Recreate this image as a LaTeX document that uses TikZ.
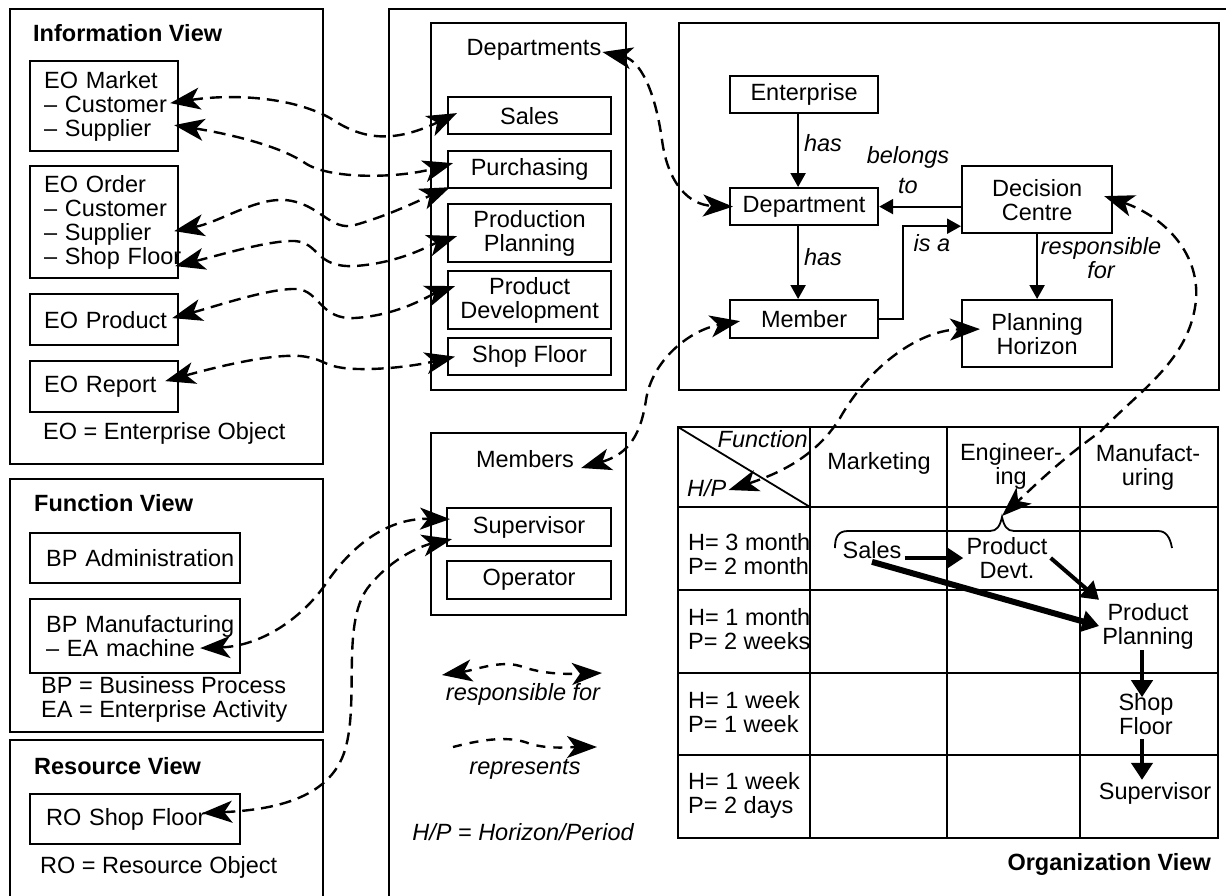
\documentclass[tikz,border=0pt]{standalone}
\usepackage{fontspec}
\setmainfont{Liberation Sans}
\usetikzlibrary{arrows.meta}
\hyphenpenalty=10000
\exhyphenpenalty=10000
\begin{document}
\begin{tikzpicture}[x=1pt,y=-1pt, font=\fontsize{23.5}{24}\selectfont,
  panel/.style={draw, line width=2.2pt, inner sep=0pt, anchor=north west},
  box/.style={draw, line width=2.2pt, inner sep=0pt, anchor=north west, align=center},
  lbox/.style={box, align=left},
  txt/.style={inner sep=0pt},
  ttl/.style={inner sep=0pt, anchor=west, font=\fontsize{23.5}{24}\selectfont\bfseries},
  itl/.style={inner sep=0pt, font=\fontsize{23.5}{24}\selectfont\itshape},
  dcon/.style={line width=2.4pt, dash pattern=on 12pt off 7pt},
  bi/.style={{Stealth[length=30pt,width=22pt,inset=8pt]}-{Stealth[length=30pt,width=22pt,inset=8pt]}},
  uni/.style={-{Stealth[length=30pt,width=22pt,inset=8pt]}},
  sarr/.style={line width=2.2pt, -{Triangle[length=14pt,width=15pt]}},
  tarr/.style={line width=4.5pt, -{Triangle[length=17pt,width=21pt]}},
  tline/.style={line width=2.2pt}
]
\clip (0,0) rectangle (1226,895);

% ---------- Information View ----------
\node[panel, minimum width=313pt, minimum height=455pt] (info) at (9,8) {};
\node[ttl] (infot) at (33,33) {Information View};
\node[lbox, minimum width=148pt, minimum height=90pt, text width=120pt, inner xsep=14pt] (mkt) at (29,60) {\mbox{EO Market}\\\mbox{– Customer}\\\mbox{– Supplier}};
\node[lbox, minimum width=148pt, minimum height=112pt, text width=120pt, inner xsep=14pt] (ord) at (29,165) {\mbox{EO Order}\\\mbox{– Customer}\\\mbox{– Supplier}\\\mbox{– Shop Floor}};
\node[lbox, minimum width=148pt, minimum height=51pt, text width=120pt, inner xsep=14pt] (prod) at (29,293) {\mbox{EO Product}};
\node[lbox, minimum width=148pt, minimum height=51pt, text width=120pt, inner xsep=14pt] (rep) at (29,360) {\mbox{EO Report}};
\node[txt, anchor=west] (eodef) at (43,433) {EO = Enterprise Object};

% ---------- Function View ----------
\node[panel, minimum width=313pt, minimum height=253pt] (func) at (9,478) {};
\node[ttl] (funct) at (34,503) {Function View};
\node[lbox, minimum width=210pt, minimum height=50pt, text width=178pt, inner xsep=16pt] (bpa) at (29,532) {\mbox{BP Administration}};
\node[lbox, minimum width=210pt, minimum height=74pt, text width=178pt, inner xsep=16pt] (bpm) at (29,598) {\mbox{BP Manufacturing}\\\mbox{– EA machine}};
\node[txt, anchor=west, align=left] (bpdef) at (41,699) {BP = Business Process\\EA = Enterprise Activity};

% ---------- Resource View ----------
\node[panel, minimum width=313pt, minimum height=200pt] (res) at (9,739) {};
\node[ttl] (rest) at (34,766) {Resource View};
\node[lbox, minimum width=210pt, minimum height=50pt, text width=178pt, inner xsep=16pt] (ro) at (29,793) {\mbox{RO Shop Floor}};
\node[txt, anchor=west] (rodef) at (40,867) {RO = Resource Object};

% ---------- Organization View (main panel) ----------
\node[panel, minimum width=900pt, minimum height=950pt] (main) at (388,8) {};

\node[panel, minimum width=195pt, minimum height=367pt] (deps) at (430,22) {};
\node[txt] (depl) at (534,50) {Departments};
\node[box, minimum width=163pt, minimum height=37pt] (sales) at (447,96) {Sales};
\node[box, minimum width=163pt, minimum height=37pt] (purch) at (447,150) {Purchasing};
\node[box, minimum width=163pt, minimum height=58pt] (pplan) at (447,203) {Production\\Planning};
\node[box, minimum width=163pt, minimum height=58pt] (pdev) at (447,270) {Product\\Development};
\node[box, minimum width=163pt, minimum height=37pt] (sfl) at (447,337) {Shop Floor};

\node[panel, minimum width=195pt, minimum height=182pt] (mems) at (430,432) {};
\node[txt] (meml) at (525,459) {Members};
\node[box, minimum width=164pt, minimum height=38pt] (sup) at (446,507) {Supervisor};
\node[box, minimum width=164pt, minimum height=38pt] (opr) at (446,560) {Operator};

% legend
\node[itl] (lg1) at (523,694) {responsible for};
\node[itl] (lg2) at (525,769) {represents};
\node[itl] (hpdef) at (523,832) {H/P = Horizon/Period};

% organisation model
\node[panel, minimum width=540pt, minimum height=367pt] (org) at (678,22) {};
\node[box, minimum width=148pt, minimum height=37pt] (ent) at (729,75) {Enterprise};
\node[box, minimum width=148pt, minimum height=37pt] (dep) at (729,187) {Department};
\node[box, minimum width=148pt, minimum height=38pt] (mem) at (729,299) {Member};
\node[box, minimum width=150pt, minimum height=67pt] (dc) at (961,165) {Decision\\Centre};
\node[box, minimum width=150pt, minimum height=67pt] (ph) at (961,299) {Planning\\Horizon};

\draw[sarr] ([xshift=-6pt]ent.south) -- ([xshift=-6pt]dep.north);
\draw[sarr] ([xshift=-6pt]dep.south) -- ([xshift=-6pt]mem.north);
\draw[sarr] (dc.west |- dep.east) -- (dep.east);
\draw[sarr] (mem.east) -- ++(24,0) |- ([yshift=8pt]dc.south west);
\draw[sarr] (dc.south) -- (ph.north);
\node[itl] (has1) at (823,143) {has};
\node[itl] (has2) at (823,257) {has};
\node[itl, align=center, font=\fontsize{23.5}{30}\selectfont\itshape] (bel) at (908,170) {belongs\\to};
\node[itl] (isa) at (932,243) {is a};
\node[itl, align=center] (resp) at (1101,258) {responsible\\for};

% table
\draw[tline] (678,427) rectangle (1218,838);
\foreach \yy in {507,590,673,755} \draw[tline] (678,\yy) -- (1218,\yy);
\foreach \xx in {810,947,1080} \draw[tline] (\xx,427) -- (\xx,838);
\draw[line width=1.8pt] (678,427) -- (810,507);
\node[itl, anchor=east] (fnl) at (808,439) {Function};
\node[itl, anchor=west] (hpl) at (687,488) {H/P};
\node[txt] (mk) at (879,463) {Marketing};
\node[txt, align=center] (eng) at (1011,466) {Engineer-\\ing};
\node[txt, align=center] (man) at (1148,467) {Manufact-\\uring};
\node[txt, anchor=west, align=left] (r1) at (688,554) {H= 3 month\\P= 2 month};
\node[txt, anchor=west, align=left] (r2) at (688,629) {H= 1 month\\P= 2 weeks};
\node[txt, anchor=west, align=left] (r3) at (688,712) {H= 1 week\\P= 1 week};
\node[txt, anchor=west, align=left] (r4) at (688,795) {H= 1 week\\P= 2 days};

\node[inner sep=3pt] (tsales) at (872,550) {Sales};
\node[inner sep=3pt, align=center] (tdevt) at (1007,558) {Product\\Devt.};
\node[inner sep=3pt, align=center] (tpp) at (1148,626) {Product\\Planning};
\node[inner sep=0pt, align=center] (tsf) at (1146,714) {Shop\\Floor};
\node[inner sep=2pt] (tsup) at (1155,793) {Supervisor};
\node[ttl, anchor=east] (orgt) at (1211,864) {Organization View};

\draw[line width=1.8pt] (835,548) .. controls (835,537) and (838,531) .. (848,531) -- (990,531)
  .. controls (997,531) and (1000,526) .. (1002,517) .. controls (1004,526) and (1007,531) .. (1014,531)
  -- (1158,531) .. controls (1166,531) and (1170,537) .. (1172,548);
\coordinate (bracetip) at (1002,516);

\draw[tarr] (tsales.east |- tdevt.west) -- (tdevt.west);
\draw[tarr, line width=6pt] (tsales.south) -- (tpp.west);
\draw[tarr, line width=4pt] (tdevt.east) -- (tpp.north west);
\draw[tarr] ([xshift=-6pt,yshift=2pt]tpp.south) -- ([xshift=-4pt,yshift=-4pt]tsf.north);
\draw[tarr] ([xshift=-4pt,yshift=-4pt]tsf.south) -- ([xshift=-13pt]tsup.north);

% ---------- dashed connectors ----------
\coordinate (c1a) at ([xshift=-9pt,yshift=3pt]mkt.east);
\coordinate (c1b) at ([xshift=10pt,yshift=2.5pt]sales.west);
\coordinate (c2a) at ([xshift=-5pt,yshift=-19pt]mkt.east);
\coordinate (c2b) at ([xshift=6pt,yshift=6.5pt]purch.west);
\coordinate (c3a) at ([xshift=-5pt,yshift=-9pt]ord.east);
\coordinate (c3b) at ([xshift=3pt,yshift=2pt]purch.south west);
\coordinate (c4a) at ([xshift=-4pt,yshift=-44pt]ord.east);
\coordinate (c4b) at ([xshift=10pt,yshift=-3pt]pplan.west);
\coordinate (c5a) at ([xshift=-7pt,yshift=1.5pt]prod.east);
\coordinate (c5b) at ([xshift=8pt,yshift=14pt]pdev.west);
\coordinate (c6a) at ([xshift=-14pt,yshift=5.5pt]rep.east);
\coordinate (c6b) at ([xshift=8pt]sfl.west);
\coordinate (c7a) at ([xshift=1pt,yshift=-2pt]depl.east);
\coordinate (c7b) at ([xshift=4pt]dep.west);
\coordinate (c8a) at ([xshift=7pt,yshift=-9pt]meml.east);
\coordinate (c8b) at ([xshift=11pt,yshift=-2pt]mem.west);
\coordinate (c9a) at ([xshift=2pt,yshift=-2pt]hpl.east);
\coordinate (c9b) at ([xshift=19pt,yshift=4.5pt]ph.west);
\coordinate (c10a) at ([xshift=-9pt,yshift=3.5pt]dc.east);
\coordinate (c11a) at ([xshift=-41pt,yshift=-12pt]bpm.east);
\coordinate (c11b) at ([xshift=4pt,yshift=8pt]sup.west);
\coordinate (c12a) at ([xshift=-39pt,yshift=6pt]ro.east);
\coordinate (c12b) at ([xshift=6pt,yshift=-12pt]sup.west);

\draw[dcon, bi] (c1a) .. controls (230,94) and (290,96) .. (330,118) .. controls (360,138) and (390,145) .. (c1b);
\draw[dcon, bi] (c2a) .. controls (230,134) and (280,146) .. (305,163) .. controls (330,180) and (400,178) .. (c2b);
\draw[dcon, bi] (c3a) .. controls (220,222) and (255,198) .. (285,200) .. controls (320,203) and (330,232) .. (355,225) .. controls (390,215) and (420,200) .. (c3b);
\draw[dcon, bi] (c4a) .. controls (220,255) and (270,240) .. (295,241) .. controls (320,243) and (315,268) .. (355,266) .. controls (400,263) and (430,245) .. (c4b);
\draw[dcon, bi] (c5a) .. controls (220,305) and (270,288) .. (297,289) .. controls (320,291) and (320,320) .. (355,318) .. controls (400,315) and (430,295) .. (c5b);
\draw[dcon, bi] (c6a) .. controls (220,366) and (270,354) .. (300,356) .. controls (330,359) and (320,370) .. (370,369) .. controls (410,368) and (440,360) .. (c6b);
\draw[dcon, bi] (c7a) .. controls (640,60) and (655,90) .. (662,140) .. controls (668,185) and (690,205) .. (c7b);
\draw[dcon, bi] (c8a) .. controls (625,455) and (640,440) .. (646,400) .. controls (652,360) and (690,330) .. (c8b);
\draw[dcon, bi] (c9a) .. controls (790,470) and (820,450) .. (840,418) .. controls (870,365) and (920,330) .. (c9b);
\draw[dcon, bi] (c10a) .. controls (1160,215) and (1200,250) .. (1196,300) .. controls (1190,360) and (1140,390) .. (1100,432) .. controls (1060,460) and (1030,490) .. (bracetip);
\draw[dcon, bi] (c11a) .. controls (260,646) and (300,620) .. (325,585) .. controls (345,555) and (380,518) .. (c11b);
\draw[dcon, bi] (c12a) .. controls (270,810) and (330,800) .. (345,750) .. controls (360,700) and (340,620) .. (370,585) .. controls (395,555) and (425,545) .. (c12b);

% legend arrows
\coordinate (l1a) at (442,675);
\coordinate (l1b) at (602,673);
\coordinate (l2a) at (453,747);
\coordinate (l2b) at (597,747);
\draw[dcon, dash pattern=on 9pt off 8pt, bi] (l1a) .. controls (475,670) and (500,660) .. (520,666) .. controls (545,675) and (570,674) .. (l1b);
\draw[dcon, dash pattern=on 9pt off 8pt, uni] (l2a) .. controls (480,740) and (505,736) .. (525,742) .. controls (545,750) and (570,747) .. (l2b);
\end{tikzpicture}
\end{document}
